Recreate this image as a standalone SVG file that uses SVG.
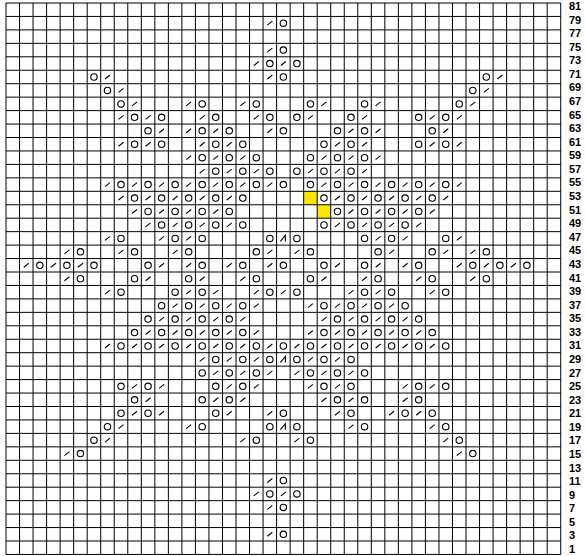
<svg xmlns="http://www.w3.org/2000/svg" width="586" height="556" viewBox="0 0 586 556">
<style>
.grid{stroke:#000;stroke-width:1;fill:none}
.sym{stroke:#000;stroke-width:1.1;fill:none}
.yel{fill:#ffe600}
.lbl{font-family:"Liberation Sans",Arial,sans-serif;font-weight:bold;font-size:11px;fill:#000}
</style>
<defs>
<circle id="o" r="3.2" class="sym"/>
<path id="s" d="M-2.5,2 L2.5,-2" class="sym"/>
<path id="a" d="M-3,3 L2,-3 L2,3" class="sym"/>
</defs>
<rect width="586" height="556" fill="#fff"/>
<g id="highlights">
<rect class="yel" x="303.66" y="191.3" width="13.53" height="13.45"/>
<rect class="yel" x="317.19" y="204.75" width="13.53" height="13.45"/>
</g>
<g id="grid" class="grid">
<path d="M6,3V554.45M19.53,3V554.45M33.06,3V554.45M46.59,3V554.45M60.12,3V554.45M73.65,3V554.45M87.18,3V554.45M100.71,3V554.45M114.24,3V554.45M127.77,3V554.45M141.3,3V554.45M154.83,3V554.45M168.36,3V554.45M181.89,3V554.45M195.42,3V554.45M208.95,3V554.45M222.48,3V554.45M236.01,3V554.45M249.54,3V554.45M263.07,3V554.45M276.6,3V554.45M290.13,3V554.45M303.66,3V554.45M317.19,3V554.45M330.72,3V554.45M344.25,3V554.45M357.78,3V554.45M371.31,3V554.45M384.84,3V554.45M398.37,3V554.45M411.9,3V554.45M425.43,3V554.45M438.96,3V554.45M452.49,3V554.45M466.02,3V554.45M479.55,3V554.45M493.08,3V554.45M506.61,3V554.45M520.14,3V554.45M533.67,3V554.45M547.2,3V554.45M560.73,3V554.45"/>
<path d="M6,3H560.73M6,16.45H560.73M6,29.9H560.73M6,43.35H560.73M6,56.8H560.73M6,70.25H560.73M6,83.7H560.73M6,97.15H560.73M6,110.6H560.73M6,124.05H560.73M6,137.5H560.73M6,150.95H560.73M6,164.4H560.73M6,177.85H560.73M6,191.3H560.73M6,204.75H560.73M6,218.2H560.73M6,231.65H560.73M6,245.1H560.73M6,258.55H560.73M6,272H560.73M6,285.45H560.73M6,298.9H560.73M6,312.35H560.73M6,325.8H560.73M6,339.25H560.73M6,352.7H560.73M6,366.15H560.73M6,379.6H560.73M6,393.05H560.73M6,406.5H560.73M6,419.95H560.73M6,433.4H560.73M6,446.85H560.73M6,460.3H560.73M6,473.75H560.73M6,487.2H560.73M6,500.65H560.73M6,514.1H560.73M6,527.55H560.73M6,541H560.73M6,554.45H560.73"/>
</g>
<g id="stitches">
<g id="row79" transform="translate(0,23.18)"><use href="#s" x="269.84"/><use href="#o" x="283.37"/></g>
<g id="row75" transform="translate(0,50.08)"><use href="#s" x="269.84"/><use href="#o" x="283.37"/></g>
<g id="row73" transform="translate(0,63.53)"><use href="#s" x="256.31"/><use href="#o" x="269.84"/><use href="#s" x="283.37"/><use href="#o" x="296.9"/></g>
<g id="row71" transform="translate(0,76.98)"><use href="#o" x="93.95"/><use href="#s" x="107.48"/><use href="#s" x="269.84"/><use href="#o" x="283.37"/><use href="#o" x="486.32"/><use href="#s" x="499.85"/></g>
<g id="row69" transform="translate(0,90.43)"><use href="#o" x="107.48"/><use href="#s" x="121.01"/><use href="#o" x="472.79"/><use href="#s" x="486.32"/></g>
<g id="row67" transform="translate(0,103.88)"><use href="#o" x="121.01"/><use href="#s" x="134.54"/><use href="#s" x="188.66"/><use href="#o" x="202.19"/><use href="#s" x="242.78"/><use href="#o" x="256.31"/><use href="#o" x="310.43"/><use href="#s" x="323.96"/><use href="#o" x="364.55"/><use href="#s" x="378.08"/><use href="#o" x="459.26"/><use href="#s" x="472.79"/></g>
<g id="row65" transform="translate(0,117.33)"><use href="#s" x="121.01"/><use href="#o" x="134.54"/><use href="#s" x="148.07"/><use href="#o" x="161.6"/><use href="#s" x="202.19"/><use href="#o" x="215.72"/><use href="#s" x="256.31"/><use href="#o" x="269.84"/><use href="#o" x="296.9"/><use href="#s" x="310.43"/><use href="#o" x="351.02"/><use href="#s" x="364.55"/><use href="#o" x="418.67"/><use href="#s" x="432.2"/><use href="#o" x="445.73"/><use href="#s" x="459.26"/></g>
<g id="row63" transform="translate(0,130.78)"><use href="#o" x="148.07"/><use href="#s" x="161.6"/><use href="#s" x="188.66"/><use href="#o" x="202.19"/><use href="#s" x="215.72"/><use href="#o" x="229.25"/><use href="#s" x="269.84"/><use href="#o" x="283.37"/><use href="#o" x="337.49"/><use href="#s" x="351.02"/><use href="#o" x="364.55"/><use href="#s" x="378.08"/><use href="#o" x="432.2"/><use href="#s" x="445.73"/></g>
<g id="row61" transform="translate(0,144.23)"><use href="#s" x="121.01"/><use href="#o" x="134.54"/><use href="#s" x="148.07"/><use href="#o" x="161.6"/><use href="#s" x="202.19"/><use href="#o" x="215.72"/><use href="#s" x="229.25"/><use href="#o" x="242.78"/><use href="#o" x="323.96"/><use href="#s" x="337.49"/><use href="#o" x="351.02"/><use href="#s" x="364.55"/><use href="#o" x="418.67"/><use href="#s" x="432.2"/><use href="#o" x="445.73"/><use href="#s" x="459.26"/></g>
<g id="row59" transform="translate(0,157.68)"><use href="#s" x="188.66"/><use href="#o" x="202.19"/><use href="#s" x="215.72"/><use href="#o" x="229.25"/><use href="#s" x="242.78"/><use href="#o" x="256.31"/><use href="#o" x="310.43"/><use href="#s" x="323.96"/><use href="#o" x="337.49"/><use href="#s" x="351.02"/><use href="#o" x="364.55"/><use href="#s" x="378.08"/></g>
<g id="row57" transform="translate(0,171.13)"><use href="#s" x="202.19"/><use href="#o" x="215.72"/><use href="#s" x="229.25"/><use href="#o" x="242.78"/><use href="#s" x="256.31"/><use href="#o" x="269.84"/><use href="#o" x="296.9"/><use href="#s" x="310.43"/><use href="#o" x="323.96"/><use href="#s" x="337.49"/><use href="#o" x="351.02"/><use href="#s" x="364.55"/></g>
<g id="row55" transform="translate(0,184.58)"><use href="#s" x="107.48"/><use href="#o" x="121.01"/><use href="#s" x="134.54"/><use href="#o" x="148.07"/><use href="#s" x="161.6"/><use href="#o" x="175.13"/><use href="#s" x="188.66"/><use href="#o" x="202.19"/><use href="#s" x="215.72"/><use href="#o" x="229.25"/><use href="#s" x="242.78"/><use href="#o" x="256.31"/><use href="#s" x="269.84"/><use href="#o" x="283.37"/><use href="#o" x="310.43"/><use href="#s" x="323.96"/><use href="#o" x="337.49"/><use href="#s" x="351.02"/><use href="#o" x="364.55"/><use href="#s" x="378.08"/><use href="#o" x="391.61"/><use href="#s" x="405.14"/><use href="#o" x="418.67"/><use href="#s" x="432.2"/><use href="#o" x="445.73"/><use href="#s" x="459.26"/></g>
<g id="row53" transform="translate(0,198.03)"><use href="#s" x="121.01"/><use href="#o" x="134.54"/><use href="#s" x="148.07"/><use href="#o" x="161.6"/><use href="#s" x="175.13"/><use href="#o" x="188.66"/><use href="#s" x="202.19"/><use href="#o" x="215.72"/><use href="#s" x="229.25"/><use href="#o" x="242.78"/><use href="#o" x="323.96"/><use href="#s" x="337.49"/><use href="#o" x="351.02"/><use href="#s" x="364.55"/><use href="#o" x="378.08"/><use href="#s" x="391.61"/><use href="#o" x="405.14"/><use href="#s" x="418.67"/><use href="#o" x="432.2"/><use href="#s" x="445.73"/></g>
<g id="row51" transform="translate(0,211.48)"><use href="#s" x="134.54"/><use href="#o" x="148.07"/><use href="#s" x="161.6"/><use href="#o" x="175.13"/><use href="#s" x="188.66"/><use href="#o" x="202.19"/><use href="#s" x="215.72"/><use href="#o" x="229.25"/><use href="#o" x="337.49"/><use href="#s" x="351.02"/><use href="#o" x="364.55"/><use href="#s" x="378.08"/><use href="#o" x="391.61"/><use href="#s" x="405.14"/><use href="#o" x="418.67"/><use href="#s" x="432.2"/></g>
<g id="row49" transform="translate(0,224.93)"><use href="#s" x="148.07"/><use href="#o" x="161.6"/><use href="#s" x="175.13"/><use href="#o" x="188.66"/><use href="#s" x="202.19"/><use href="#o" x="215.72"/><use href="#s" x="229.25"/><use href="#o" x="242.78"/><use href="#o" x="323.96"/><use href="#s" x="337.49"/><use href="#o" x="351.02"/><use href="#s" x="364.55"/><use href="#o" x="378.08"/><use href="#s" x="391.61"/><use href="#o" x="405.14"/><use href="#s" x="418.67"/></g>
<g id="row47" transform="translate(0,238.38)"><use href="#s" x="107.48"/><use href="#o" x="121.01"/><use href="#s" x="161.6"/><use href="#o" x="175.13"/><use href="#s" x="188.66"/><use href="#o" x="202.19"/><use href="#o" x="269.84"/><use href="#a" x="283.37"/><use href="#o" x="296.9"/><use href="#o" x="364.55"/><use href="#s" x="378.08"/><use href="#o" x="391.61"/><use href="#s" x="405.14"/><use href="#o" x="445.73"/><use href="#s" x="459.26"/></g>
<g id="row45" transform="translate(0,251.83)"><use href="#s" x="66.89"/><use href="#o" x="80.42"/><use href="#s" x="121.01"/><use href="#o" x="134.54"/><use href="#s" x="175.13"/><use href="#o" x="188.66"/><use href="#o" x="256.31"/><use href="#s" x="269.84"/><use href="#s" x="296.9"/><use href="#o" x="310.43"/><use href="#o" x="378.08"/><use href="#s" x="391.61"/><use href="#o" x="432.2"/><use href="#s" x="445.73"/><use href="#s" x="472.79"/><use href="#o" x="486.32"/></g>
<g id="row43" transform="translate(0,265.28)"><use href="#s" x="26.3"/><use href="#o" x="39.83"/><use href="#s" x="53.36"/><use href="#o" x="66.89"/><use href="#s" x="80.42"/><use href="#o" x="93.95"/><use href="#o" x="148.07"/><use href="#s" x="161.6"/><use href="#s" x="188.66"/><use href="#o" x="202.19"/><use href="#s" x="229.25"/><use href="#o" x="242.78"/><use href="#s" x="269.84"/><use href="#o" x="283.37"/><use href="#o" x="323.96"/><use href="#s" x="337.49"/><use href="#o" x="364.55"/><use href="#s" x="378.08"/><use href="#s" x="405.14"/><use href="#o" x="418.67"/><use href="#s" x="459.26"/><use href="#o" x="472.79"/><use href="#s" x="486.32"/><use href="#o" x="499.85"/><use href="#s" x="513.38"/><use href="#o" x="526.91"/></g>
<g id="row41" transform="translate(0,278.73)"><use href="#s" x="66.89"/><use href="#o" x="80.42"/><use href="#o" x="134.54"/><use href="#s" x="148.07"/><use href="#o" x="188.66"/><use href="#s" x="202.19"/><use href="#s" x="242.78"/><use href="#o" x="256.31"/><use href="#o" x="310.43"/><use href="#s" x="323.96"/><use href="#s" x="364.55"/><use href="#o" x="378.08"/><use href="#s" x="418.67"/><use href="#o" x="432.2"/><use href="#s" x="472.79"/><use href="#o" x="486.32"/></g>
<g id="row39" transform="translate(0,292.18)"><use href="#s" x="107.48"/><use href="#o" x="121.01"/><use href="#o" x="175.13"/><use href="#s" x="188.66"/><use href="#o" x="202.19"/><use href="#s" x="215.72"/><use href="#s" x="256.31"/><use href="#o" x="269.84"/><use href="#s" x="283.37"/><use href="#o" x="296.9"/><use href="#s" x="351.02"/><use href="#o" x="364.55"/><use href="#s" x="378.08"/><use href="#o" x="391.61"/><use href="#s" x="432.2"/><use href="#o" x="445.73"/></g>
<g id="row37" transform="translate(0,305.63)"><use href="#o" x="161.6"/><use href="#s" x="175.13"/><use href="#o" x="188.66"/><use href="#s" x="202.19"/><use href="#o" x="215.72"/><use href="#s" x="229.25"/><use href="#o" x="242.78"/><use href="#s" x="256.31"/><use href="#s" x="310.43"/><use href="#o" x="323.96"/><use href="#s" x="337.49"/><use href="#o" x="351.02"/><use href="#s" x="364.55"/><use href="#o" x="378.08"/><use href="#s" x="391.61"/><use href="#o" x="405.14"/></g>
<g id="row35" transform="translate(0,319.08)"><use href="#o" x="148.07"/><use href="#s" x="161.6"/><use href="#o" x="175.13"/><use href="#s" x="188.66"/><use href="#o" x="202.19"/><use href="#s" x="215.72"/><use href="#o" x="229.25"/><use href="#s" x="242.78"/><use href="#s" x="323.96"/><use href="#o" x="337.49"/><use href="#s" x="351.02"/><use href="#o" x="364.55"/><use href="#s" x="378.08"/><use href="#o" x="391.61"/><use href="#s" x="405.14"/><use href="#o" x="418.67"/></g>
<g id="row33" transform="translate(0,332.53)"><use href="#o" x="134.54"/><use href="#s" x="148.07"/><use href="#o" x="161.6"/><use href="#s" x="175.13"/><use href="#o" x="188.66"/><use href="#s" x="202.19"/><use href="#o" x="215.72"/><use href="#s" x="229.25"/><use href="#o" x="242.78"/><use href="#s" x="256.31"/><use href="#s" x="310.43"/><use href="#o" x="323.96"/><use href="#s" x="337.49"/><use href="#o" x="351.02"/><use href="#s" x="364.55"/><use href="#o" x="378.08"/><use href="#s" x="391.61"/><use href="#o" x="405.14"/><use href="#s" x="418.67"/><use href="#o" x="432.2"/></g>
<g id="row31" transform="translate(0,345.98)"><use href="#s" x="107.48"/><use href="#o" x="121.01"/><use href="#s" x="134.54"/><use href="#o" x="148.07"/><use href="#s" x="161.6"/><use href="#o" x="175.13"/><use href="#s" x="188.66"/><use href="#o" x="202.19"/><use href="#s" x="215.72"/><use href="#o" x="229.25"/><use href="#s" x="242.78"/><use href="#o" x="256.31"/><use href="#s" x="269.84"/><use href="#o" x="283.37"/><use href="#s" x="296.9"/><use href="#o" x="310.43"/><use href="#s" x="323.96"/><use href="#o" x="337.49"/><use href="#s" x="351.02"/><use href="#o" x="364.55"/><use href="#s" x="378.08"/><use href="#o" x="391.61"/><use href="#s" x="405.14"/><use href="#o" x="418.67"/><use href="#s" x="432.2"/><use href="#o" x="445.73"/></g>
<g id="row29" transform="translate(0,359.43)"><use href="#s" x="202.19"/><use href="#o" x="215.72"/><use href="#s" x="229.25"/><use href="#o" x="242.78"/><use href="#s" x="256.31"/><use href="#o" x="269.84"/><use href="#a" x="283.37"/><use href="#o" x="296.9"/><use href="#s" x="310.43"/><use href="#o" x="323.96"/><use href="#s" x="337.49"/><use href="#o" x="351.02"/></g>
<g id="row27" transform="translate(0,372.88)"><use href="#o" x="202.19"/><use href="#s" x="215.72"/><use href="#o" x="229.25"/><use href="#s" x="242.78"/><use href="#o" x="256.31"/><use href="#s" x="269.84"/><use href="#s" x="296.9"/><use href="#o" x="310.43"/><use href="#s" x="323.96"/><use href="#o" x="337.49"/><use href="#s" x="351.02"/><use href="#o" x="364.55"/></g>
<g id="row25" transform="translate(0,386.33)"><use href="#o" x="121.01"/><use href="#s" x="134.54"/><use href="#o" x="148.07"/><use href="#s" x="161.6"/><use href="#o" x="215.72"/><use href="#s" x="229.25"/><use href="#o" x="242.78"/><use href="#s" x="256.31"/><use href="#s" x="310.43"/><use href="#o" x="323.96"/><use href="#s" x="337.49"/><use href="#o" x="351.02"/><use href="#s" x="405.14"/><use href="#o" x="418.67"/><use href="#s" x="432.2"/><use href="#o" x="445.73"/></g>
<g id="row23" transform="translate(0,399.78)"><use href="#o" x="134.54"/><use href="#s" x="148.07"/><use href="#o" x="202.19"/><use href="#s" x="215.72"/><use href="#o" x="229.25"/><use href="#s" x="242.78"/><use href="#s" x="323.96"/><use href="#o" x="337.49"/><use href="#s" x="351.02"/><use href="#o" x="364.55"/><use href="#s" x="405.14"/><use href="#o" x="418.67"/></g>
<g id="row21" transform="translate(0,413.23)"><use href="#o" x="121.01"/><use href="#s" x="134.54"/><use href="#o" x="148.07"/><use href="#s" x="161.6"/><use href="#o" x="215.72"/><use href="#s" x="229.25"/><use href="#s" x="269.84"/><use href="#o" x="283.37"/><use href="#s" x="337.49"/><use href="#o" x="351.02"/><use href="#s" x="391.61"/><use href="#o" x="405.14"/><use href="#s" x="418.67"/><use href="#o" x="432.2"/></g>
<g id="row19" transform="translate(0,426.68)"><use href="#o" x="107.48"/><use href="#s" x="121.01"/><use href="#s" x="188.66"/><use href="#o" x="202.19"/><use href="#o" x="269.84"/><use href="#a" x="283.37"/><use href="#o" x="296.9"/><use href="#s" x="351.02"/><use href="#o" x="364.55"/><use href="#s" x="432.2"/><use href="#o" x="445.73"/></g>
<g id="row17" transform="translate(0,440.13)"><use href="#o" x="93.95"/><use href="#s" x="107.48"/><use href="#s" x="242.78"/><use href="#o" x="256.31"/><use href="#s" x="296.9"/><use href="#o" x="310.43"/><use href="#s" x="445.73"/><use href="#o" x="459.26"/></g>
<g id="row15" transform="translate(0,453.58)"><use href="#s" x="66.89"/><use href="#o" x="80.42"/><use href="#s" x="459.26"/><use href="#o" x="472.79"/></g>
<g id="row11" transform="translate(0,480.48)"><use href="#s" x="269.84"/><use href="#o" x="283.37"/></g>
<g id="row9" transform="translate(0,493.93)"><use href="#s" x="256.31"/><use href="#o" x="269.84"/><use href="#s" x="283.37"/><use href="#o" x="296.9"/></g>
<g id="row7" transform="translate(0,507.38)"><use href="#s" x="269.84"/><use href="#o" x="283.37"/></g>
<g id="row3" transform="translate(0,534.28)"><use href="#s" x="269.84"/><use href="#o" x="283.37"/></g>
</g>
<g id="labels" class="lbl">
<text x="569" y="10">81</text><text x="569" y="23.58">79</text><text x="569" y="37.15">77</text><text x="569" y="50.73">75</text><text x="569" y="64.3">73</text><text x="569" y="77.88">71</text><text x="569" y="91.45">69</text><text x="569" y="105.03">67</text><text x="569" y="118.6">65</text><text x="569" y="132.18">63</text><text x="569" y="145.75">61</text><text x="569" y="159.33">59</text><text x="569" y="172.9">57</text><text x="569" y="186.48">55</text><text x="569" y="200.05">53</text><text x="569" y="213.63">51</text><text x="569" y="227.2">49</text><text x="569" y="240.78">47</text><text x="569" y="254.35">45</text><text x="569" y="267.93">43</text><text x="569" y="281.5">41</text><text x="569" y="295.08">39</text><text x="569" y="308.65">37</text><text x="569" y="322.23">35</text><text x="569" y="335.8">33</text><text x="569" y="349.38">31</text><text x="569" y="362.95">29</text><text x="569" y="376.53">27</text><text x="569" y="390.1">25</text><text x="569" y="403.68">23</text><text x="569" y="417.25">21</text><text x="569" y="430.83">19</text><text x="569" y="444.4">17</text><text x="569" y="457.98">15</text><text x="569" y="471.55">13</text><text x="569" y="485.13">11</text><text x="569" y="498.7">9</text><text x="569" y="512.28">7</text><text x="569" y="525.85">5</text><text x="569" y="539.43">3</text><text x="569" y="553">1</text>
</g>
</svg>
